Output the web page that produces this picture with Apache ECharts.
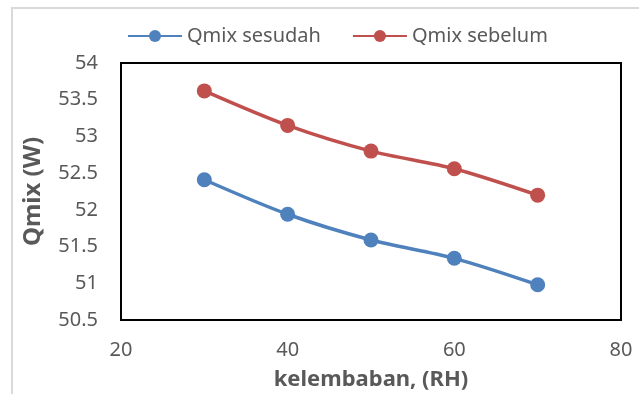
<!DOCTYPE html>
<html>
<head>
<meta charset="utf-8">
<script src="https://cdn.jsdelivr.net/npm/echarts@6/dist/echarts.min.js"></script>
<style>
  html, body { margin: 0; padding: 0; background: #fff; }
  #chart { width: 639px; height: 394px; }
</style>
</head>
<body>
<div id="chart"></div>
<script>
// Relative humidity (RH, %) on the x axis
const humidity = [30, 40, 50, 60, 70];
// Mixing heat Qmix in watts
const qmixSesudah = [52.41, 51.94, 51.59, 51.34, 50.98];
const qmixSebelum = [53.62, 53.15, 52.80, 52.56, 52.20];
const seriesNames = ['Qmix sesudah', 'Qmix sebelum'];
const xTicks = { min: 20, max: 80, step: 20 };
const yTicks = { min: 50.5, max: 54, step: 0.5 };

const font = '"Noto Sans", "Open Sans", sans-serif';
const textColor = '#595959';

const pairs = vals => humidity.map((h, i) => [h, vals[i]]);

const chart = echarts.init(document.getElementById('chart'), null, { renderer: 'canvas' });
chart.setOption({
  backgroundColor: '#fff',
  animation: false,
  graphic: [{
    type: 'rect',
    shape: { x: 12, y: 8, width: 700, height: 500 },
    style: { fill: 'none', stroke: '#d9d9d9', lineWidth: 2 },
    silent: true
  }],
  legend: {
    data: seriesNames,
    top: 26,
    left: 127,
    padding: 0,
    itemGap: 31,
    itemWidth: 54,
    itemHeight: 15,
    textStyle: { color: textColor, fontFamily: font, fontSize: 20 }
  },
  grid: {
    left: 121, right: 18, top: 63, bottom: 74,
    outerBoundsMode: 'none',
    containLabel: false,
    show: true, borderColor: '#000', borderWidth: 2, backgroundColor: 'transparent'
  },
  xAxis: {
    type: 'value',
    min: xTicks.min, max: xTicks.max, interval: xTicks.step,
    axisLine: { show: false }, axisTick: { show: false }, splitLine: { show: false },
    axisLabel: { color: textColor, fontFamily: font, fontSize: 20, margin: 20 },
    name: 'kelembaban, (RH)',
    nameLocation: 'middle',
    nameGap: 49,
    nameTextStyle: { color: textColor, fontFamily: font, fontSize: 22, fontWeight: 'bold' }
  },
  yAxis: {
    type: 'value',
    min: yTicks.min, max: yTicks.max, interval: yTicks.step,
    axisLine: { show: false }, axisTick: { show: false }, splitLine: { show: false },
    axisLabel: { color: textColor, fontFamily: font, fontSize: 20, margin: 23 },
    name: 'Qmix (W)',
    nameLocation: 'middle',
    nameGap: 76,
    nameTextStyle: { color: textColor, fontFamily: font, fontSize: 24, fontWeight: 'bold' }
  },
  series: [
    {
      name: seriesNames[0], type: 'line', data: pairs(qmixSesudah),
      smooth: 0.3, symbol: 'circle', symbolSize: 15,
      lineStyle: { color: '#4f81bd', width: 3.5 },
      itemStyle: { color: '#4f81bd' }
    },
    {
      name: seriesNames[1], type: 'line', data: pairs(qmixSebelum),
      smooth: 0.3, symbol: 'circle', symbolSize: 15,
      lineStyle: { color: '#c0504d', width: 3.5 },
      itemStyle: { color: '#c0504d' }
    }
  ]
});
</script>
</body>
</html>
